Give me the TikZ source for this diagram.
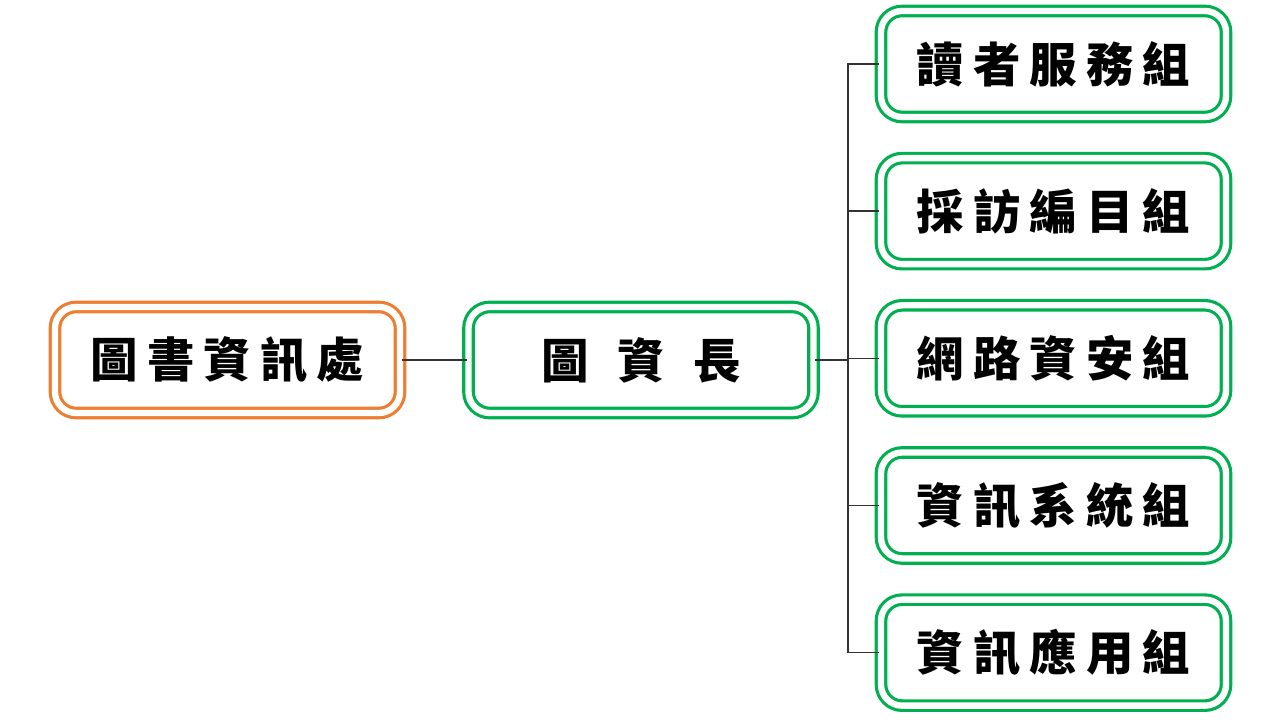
\documentclass[tikz,border=0pt]{standalone}
\usepackage{fontspec}
\newfontfamily\cjk[LetterSpace=19]{Noto Sans CJK TC}
\usetikzlibrary{positioning}
\definecolor{boxgreen}{RGB}{0,176,80}
\definecolor{boxorange}{RGB}{237,125,49}
\tikzstyle{unit} = [rectangle, rounded corners=6pt, minimum width=3.45cm, minimum height=1.06cm, text centered, draw=boxgreen, double=white, double distance=1.8pt, line width=0.9pt, font=\cjk\bfseries\fontsize{13.5pt}{16pt}\selectfont]
\tikzstyle{line} = [line width=0.4pt, black!80]

\begin{document}
\begin{tikzpicture}
    \useasboundingbox (0,0) rectangle (12.8,7.2);
    \node (office) [unit, draw=boxorange] at (2.275,3.6) {圖書資訊處};
    \node (head) [unit] at (6.41,3.6) {圖\hspace{0.6em}資\hspace{0.6em}長};
    \node (reader) [unit] at (10.535,6.56) {讀者服務組};
    \node (catalog) [unit, below=0.38cm of reader] {採訪編目組};
    \node (network) [unit, below=0.38cm of catalog] {網路資安組};
    \node (system) [unit, below=0.38cm of network] {資訊系統組};
    \node (app) [unit, below=0.38cm of system] {資訊應用組};
    \coordinate (split) at (8.48,3.6);

    \draw [line] (office) -- (head);
    \draw [line] (head) -- (split);
    \foreach \g in {reader, catalog, network, system, app}
        \draw [line] (split) |- (\g.west);
\end{tikzpicture}
\end{document}
